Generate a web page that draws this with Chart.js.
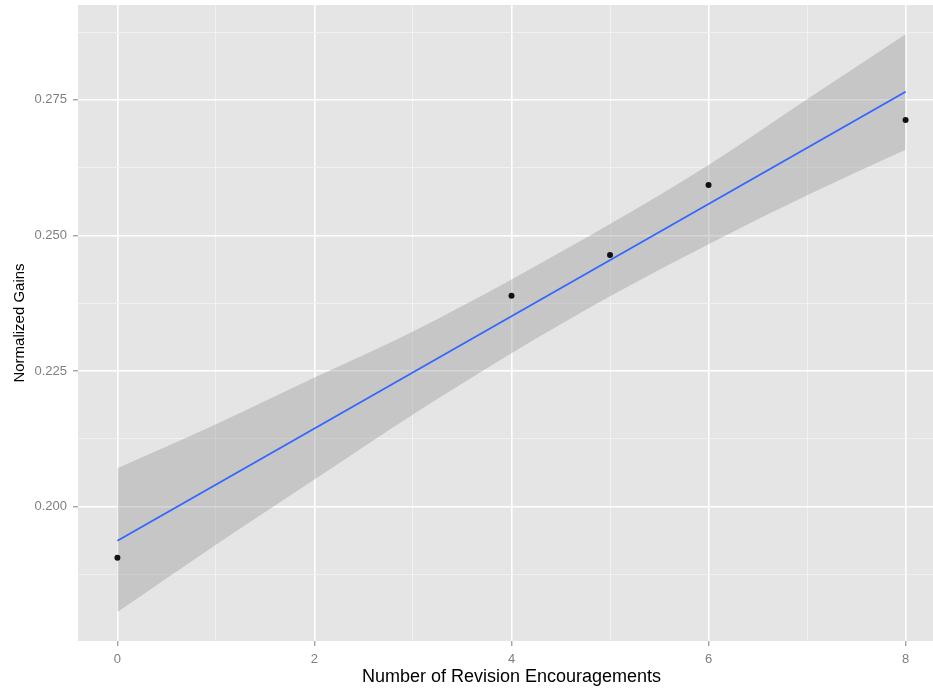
<!DOCTYPE html>
<html>
<head>
<meta charset="utf-8">
<script src="https://cdn.jsdelivr.net/npm/chart.js@4"></script>
<style>
  html, body { margin: 0; padding: 0; background: #fff; overflow: hidden; }
  canvas { display: block; }
</style>
</head>
<body>
<canvas id="gainsChart" width="945" height="693"></canvas>
<script>
// observed points
const encouragements = [0, 4, 5, 6, 8];
const gains = [0.1906, 0.2389, 0.2464, 0.2593, 0.2713];

// fitted line (ends)
const fitX = [0, 8];
const fitY = [0.1937, 0.2765];

// confidence band edges
const bandX = [0, 1, 2, 3, 4, 5, 6, 7, 8];
const bandUpper = [0.2071, 0.2152, 0.2238, 0.2323, 0.2419, 0.2521, 0.2630, 0.2751, 0.2871];
const bandLower = [0.1806, 0.1930, 0.2050, 0.2170, 0.2283, 0.2388, 0.2484, 0.2574, 0.2658];

// axis ticks
const xMajor = [0, 2, 4, 6, 8];
const xMinor = [1, 3, 5, 7];
const yMajor = [0.200, 0.225, 0.250, 0.275];
const yMinor = [0.1875, 0.2125, 0.2375, 0.2625, 0.2875];

const toPoints = (xs, ys) => xs.map((x, i) => ({ x: x, y: ys[i] }));
const isMajor = (list, v) => list.some(m => Math.abs(m - v) < 1e-9);

// grey panel behind the grid
const panelBg = {
    id: "panelBg",
    beforeDraw(chart) {
        const { ctx, chartArea: a } = chart;
        ctx.save();
        ctx.fillStyle = "#E5E5E5";
        ctx.fillRect(a.left, a.top, a.right - a.left, a.bottom - a.top);
        ctx.restore();
    }
};

const gridFor = major => ({
    color: c => isMajor(major, c.tick.value) ? "#FFFFFF" : "#F2F2F2",
    lineWidth: c => isMajor(major, c.tick.value) ? 1.6 : 0.9,
    tickColor: c => isMajor(major, c.tick.value) ? "#7F7F7F" : "rgba(0,0,0,0)",
    tickLength: 5,
    tickWidth: 1,
    drawTicks: true
});

new Chart(document.getElementById("gainsChart").getContext("2d"), {
    type: "scatter",
    data: {
        datasets: [
            {
                data: toPoints(encouragements, gains),
                backgroundColor: "#111111",
                borderColor: "#111111",
                borderWidth: 0,
                pointRadius: 3,
                showLine: false
            },
            {
                type: "line",
                data: toPoints(fitX, fitY),
                borderColor: "#3366FF",
                borderWidth: 1.8,
                pointRadius: 0,
                fill: false
            },
            {
                type: "line",
                data: toPoints(bandX, bandUpper),
                borderWidth: 0,
                borderColor: "rgba(0,0,0,0)",
                backgroundColor: "rgba(153,153,153,0.4)",
                pointRadius: 0,
                cubicInterpolationMode: "monotone",
                fill: "+1"
            },
            {
                type: "line",
                data: toPoints(bandX, bandLower),
                borderWidth: 0,
                borderColor: "rgba(0,0,0,0)",
                pointRadius: 0,
                cubicInterpolationMode: "monotone",
                fill: false
            }
        ]
    },
    options: {
        responsive: false,
        animation: false,
        layout: { autoPadding: false, padding: { top: 5, right: 0, left: 0, bottom: 0 } },
        plugins: { legend: { display: false }, tooltip: { enabled: false } },
        scales: {
            x: {
                type: "linear",
                min: -0.4,
                max: 8.4,
                border: { display: false },
                grid: gridFor(xMajor),
                afterBuildTicks: s => {
                    s.ticks = xMajor.concat(xMinor).sort((a, b) => a - b).map(v => ({ value: v }));
                },
                afterFit: s => {
                    s.height = 52;
                    s.paddingLeft = 0;
                    s.paddingRight = 0;
                },
                ticks: {
                    autoSkip: false,
                    maxRotation: 0,
                    padding: 6,
                    color: "#7F7F7F",
                    font: { family: "Liberation Sans, Arial, sans-serif", size: 13 },
                    callback: v => isMajor(xMajor, v) ? String(v) : ""
                },
                title: {
                    display: true,
                    text: "Number of Revision Encouragements",
                    color: "#000000",
                    font: { family: "Liberation Sans, Arial, sans-serif", size: 18 },
                    padding: { top: 0, bottom: 5 }
                }
            },
            y: {
                min: 0.17523,
                max: 0.2925,
                border: { display: false },
                grid: gridFor(yMajor),
                afterBuildTicks: s => {
                    s.ticks = yMajor.concat(yMinor).sort((a, b) => a - b).map(v => ({ value: v }));
                },
                afterFit: s => {
                    s.width = 78;
                    s.paddingTop = 0;
                    s.paddingBottom = 0;
                },
                ticks: {
                    autoSkip: false,
                    padding: 6,
                    color: "#7F7F7F",
                    font: { family: "Liberation Sans, Arial, sans-serif", size: 13 },
                    callback: v => isMajor(yMajor, v) ? v.toFixed(3) : ""
                },
                title: {
                    display: true,
                    text: "Normalized Gains",
                    color: "#000000",
                    font: { family: "Liberation Sans, Arial, sans-serif", size: 15 },
                    padding: { top: 11, bottom: 0 }
                }
            }
        }
    },
    plugins: [panelBg]
});
</script>
</body>
</html>
